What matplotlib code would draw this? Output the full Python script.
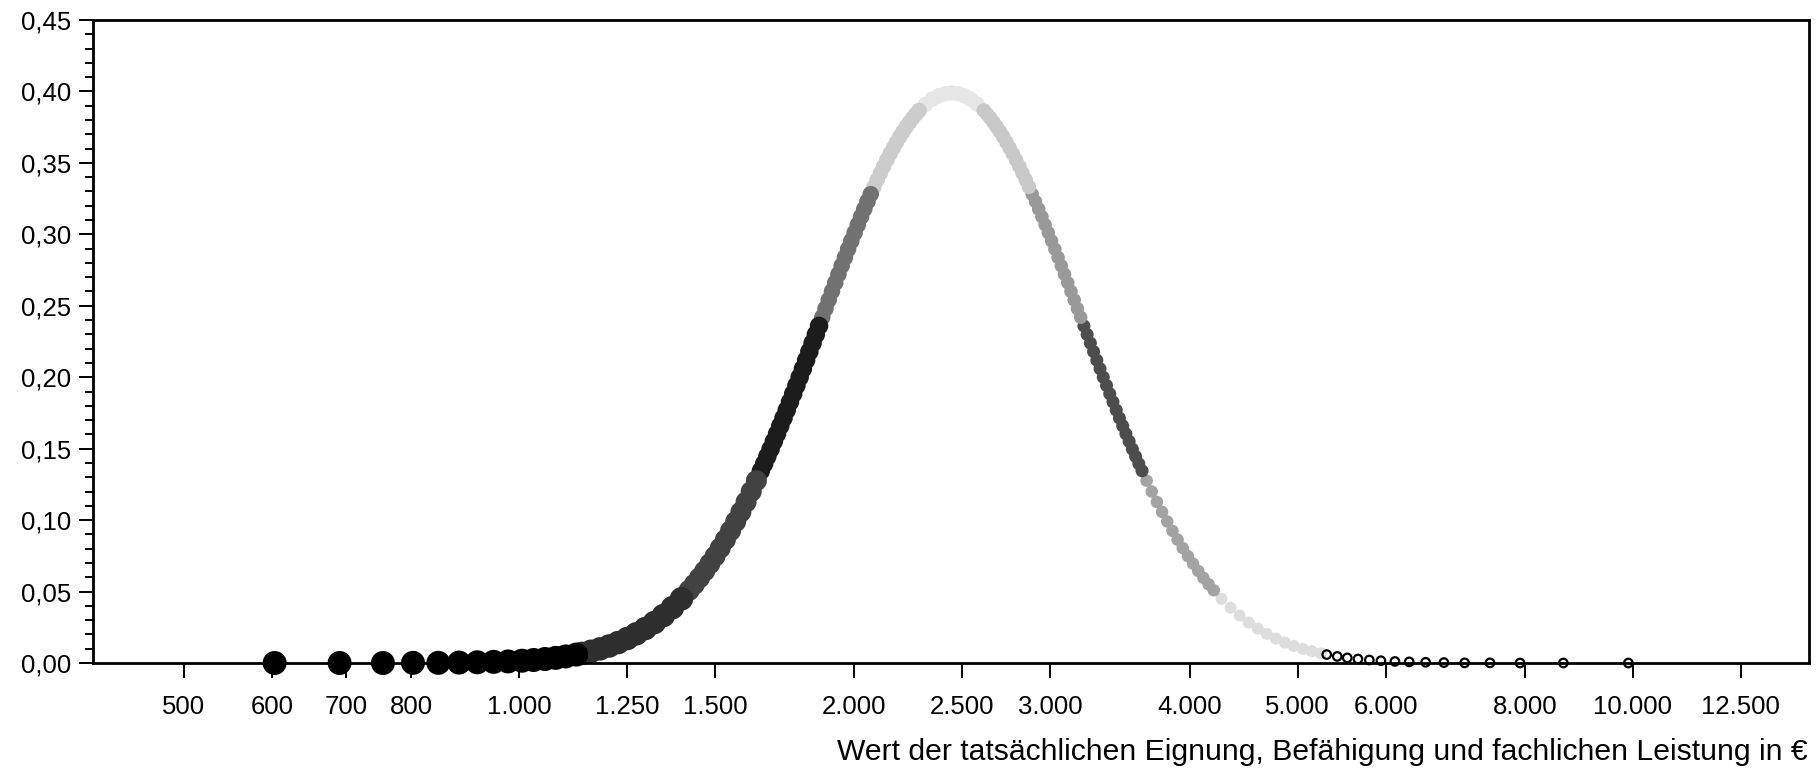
import matplotlib
matplotlib.use("Agg")
import matplotlib.pyplot as plt
from matplotlib.ticker import FixedLocator, MultipleLocator, FuncFormatter, NullLocator

plt.rcParams['font.family'] = ['Liberation Sans', 'DejaVu Sans']

# ---- data (value in EUR, density) ----
# left tail, big black dots
tail_lo_x = [603.4, 690.1, 754.8, 803.2, 846.4, 883.4, 917.4, 949.0, 977.6, 1006.2,
             1030.7, 1055.3, 1078.9, 1101.3, 1125.6]
tail_lo_y = [0.0, 0.0, 0.0, 0.0001, 0.0001, 0.0003, 0.0005, 0.0008, 0.0011, 0.0016,
             0.0021, 0.0028, 0.0036, 0.0046, 0.0059]

lo2_x = [1139.0, 1160.5, 1182.4, 1204.7, 1227.4, 1250.6, 1274.2, 1298.3, 1322.8, 1347.7,
         1373.1, 1399.1]
lo2_y = [0.0067, 0.0082, 0.0099, 0.0119, 0.0143, 0.0171, 0.0204, 0.0241, 0.0283, 0.0332,
         0.0387, 0.0449]

lo3_x = [1421.7, 1436.9, 1452.4, 1468.0, 1483.8, 1499.7, 1515.8, 1532.1, 1548.5, 1565.2,
         1582.0, 1599.0, 1616.1, 1633.5]
lo3_y = [0.0509, 0.0551, 0.0596, 0.0644, 0.0695, 0.0748, 0.0804, 0.0863, 0.0925, 0.0990,
         0.1057, 0.1127, 0.1200, 0.1276]

lo4_x = [1648.8, 1659.9, 1671.0, 1682.2, 1693.5, 1704.8, 1716.2, 1727.7, 1739.3, 1751.0,
         1762.7, 1774.5, 1786.4, 1798.4, 1810.4, 1822.5, 1834.8, 1847.1, 1859.4]
lo4_y = [0.1345, 0.1394, 0.1446, 0.1497, 0.1551, 0.1604, 0.1659, 0.1714, 0.1770, 0.1827,
         0.1884, 0.1942, 0.2000, 0.2059, 0.2119, 0.2179, 0.2239, 0.2299, 0.2359]

lo5_x = [1871.9, 1884.4, 1897.1, 1909.8, 1922.6, 1935.4, 1948.4, 1961.5, 1974.6, 1987.8,
         2001.2, 2014.6, 2028.0, 2041.6, 2055.3, 2069.1]
lo5_y = [0.2420, 0.2480, 0.2541, 0.2601, 0.2661, 0.2720, 0.2780, 0.2838, 0.2897, 0.2954,
         0.3011, 0.3067, 0.3123, 0.3177, 0.3230, 0.3281]

lo6_x = [2083.0, 2096.9, 2111.0, 2125.1, 2139.3, 2153.7, 2168.1, 2182.6, 2197.3, 2212.0,
         2226.8, 2241.7, 2256.7, 2271.8, 2287.1]
lo6_y = [0.3332, 0.3382, 0.3429, 0.3476, 0.3521, 0.3564, 0.3605, 0.3645, 0.3683, 0.3719,
         0.3752, 0.3784, 0.3814, 0.3841, 0.3867]

# top of the curve
peak_x = [2317.8, 2349.0, 2380.6, 2412.6, 2445.0, 2477.9, 2511.2, 2544.9, 2579.2]
peak_y = [0.3910, 0.3945, 0.3970, 0.3984, 0.3989, 0.3984, 0.3970, 0.3945, 0.3910]

hi6_x = [2613.8, 2631.4, 2649.0, 2666.7, 2684.6, 2702.6, 2720.7, 2738.9, 2757.3, 2775.7,
         2794.3, 2813.1, 2831.9, 2850.9, 2870.0]
hi6_y = [0.3867, 0.3841, 0.3814, 0.3784, 0.3752, 0.3719, 0.3683, 0.3645, 0.3605, 0.3564,
         0.3521, 0.3476, 0.3429, 0.3382, 0.3332]

hi5_x = [2889.2, 2908.6, 2928.1, 2947.7, 2967.4, 2987.3, 3007.3, 3027.5, 3047.8, 3068.2,
         3088.7, 3109.4, 3130.3, 3151.2, 3172.3, 3193.6]
hi5_y = [0.3281, 0.3230, 0.3177, 0.3123, 0.3067, 0.3011, 0.2954, 0.2897, 0.2838, 0.2780,
         0.2720, 0.2661, 0.2601, 0.2541, 0.2480, 0.2420]

hi4_x = [3215.0, 3236.5, 3258.2, 3280.0, 3302.0, 3324.1, 3346.4, 3368.8, 3391.4, 3414.1,
         3437.0, 3460.0, 3483.2, 3506.5, 3530.0, 3553.7, 3577.5, 3601.5, 3625.6]
hi4_y = [0.2359, 0.2299, 0.2239, 0.2179, 0.2119, 0.2059, 0.2000, 0.1942, 0.1884, 0.1827,
         0.1770, 0.1714, 0.1659, 0.1604, 0.1551, 0.1497, 0.1446, 0.1394, 0.1345]

hi3_x = [3659.7, 3699.0, 3738.7, 3778.8, 3819.4, 3860.5, 3901.9, 3943.8, 3986.2, 4029.0,
         4072.3, 4116.0, 4160.3, 4204.9]
hi3_y = [0.1276, 0.1200, 0.1127, 0.1057, 0.0990, 0.0925, 0.0863, 0.0804, 0.0748, 0.0695,
         0.0644, 0.0596, 0.0551, 0.0509]

hi2_x = [4272.9, 4353.5, 4435.7, 4519.4, 4604.7, 4691.6, 4780.1, 4870.3, 4962.3, 5055.9,
         5151.3, 5248.5]
hi2_y = [0.0449, 0.0387, 0.0332, 0.0283, 0.0241, 0.0204, 0.0171, 0.0143, 0.0119, 0.0099,
         0.0082, 0.0067]

# right tail, small open circles
tail_hi_x = [5311, 5428, 5541, 5665, 5800, 5941, 6115, 6299, 6516, 6767,
             7063, 7443, 7920, 8662, 9908]
tail_hi_y = [0.0059, 0.0046, 0.0036, 0.0028, 0.0021, 0.0016, 0.0011, 0.0008, 0.0005, 0.0003,
             0.0001, 0.0001, 0.0, 0.0, 0.0]

x_ticks = [500, 600, 700, 800, 1000, 1250, 1500, 2000, 2500, 3000, 4000, 5000,
           6000, 8000, 10000, 12500]
x_ticklabels = ['500', '600', '700', '800', '1.000', '1.250', '1.500', '2.000', '2.500',
                '3.000', '4.000', '5.000', '6.000', '8.000', '10.000', '12.500']
x_label = 'Wert der tatsächlichen Eignung, Befähigung und fachlichen Leistung in €'


def size(d_px):
    # marker diameter in pixels (dpi 100) -> scatter size in pt^2
    return (0.72 * d_px) ** 2


# (x, y, color, diameter in px) in drawing order
segments = [
    (peak_x, peak_y, '#e6e6e6', 15.5),
    (hi2_x, hi2_y, '#dddddd', 12.0),
    (hi3_x, hi3_y, '#a3a3a3', 12.5),
    (hi4_x, hi4_y, '#4d4d4d', 13.0),
    (hi5_x, hi5_y, '#999999', 13.5),
    (hi6_x, hi6_y, '#c8c8c8', 14.5),
    (lo6_x, lo6_y, '#cccccc', 15.5),
    (lo5_x, lo5_y, '#717171', 16.5),
    (lo4_x, lo4_y, '#1c1c1c', 18.5),
    (lo3_x, lo3_y, '#424242', 21.0),
    (lo2_x, lo2_y, '#2e2e2e', 23.5),
    (tail_lo_x, tail_lo_y, '#000000', 24.0),
]

fig = plt.figure(figsize=(18.16, 7.68), dpi=100)
ax = fig.add_axes([93 / 1816, 1 - 663 / 768, (1809 - 93) / 1816, (663 - 20) / 768])

for xs, ys, col, d in segments:
    ax.scatter(xs, ys, s=size(d), c=col, edgecolors='none', zorder=2, clip_on=False)

ax.scatter(tail_hi_x, tail_hi_y, s=size(8.5), facecolors='none', edgecolors='black',
           linewidths=1.6, zorder=2, clip_on=False)

ax.set_xscale('log')
ax.set_xlim(414.5, 14394)
ax.set_ylim(0, 0.45)

ax.xaxis.set_major_locator(FixedLocator(x_ticks))
ax.set_xticklabels(x_ticklabels)
ax.xaxis.set_minor_locator(NullLocator())
ax.yaxis.set_major_locator(MultipleLocator(0.05))
ax.yaxis.set_minor_locator(MultipleLocator(0.01))
ax.yaxis.set_major_formatter(FuncFormatter(lambda v, p: f"{v:.2f}".replace('.', ',')))

ax.tick_params(axis='x', which='major', direction='out', length=10.8, width=1.4,
               pad=12, labelsize=18.5)
ax.tick_params(axis='y', which='major', direction='out', length=10, width=1.4,
               pad=5.5, labelsize=18.5)
ax.tick_params(axis='y', which='minor', direction='out', length=5.8, width=1.4)

for sp in ax.spines.values():
    sp.set_linewidth(2)

fig.text(1808 / 1816, 1 - 760 / 768, x_label, ha='right', va='baseline', fontsize=21.7)

fig.savefig('out.png', dpi=100)
